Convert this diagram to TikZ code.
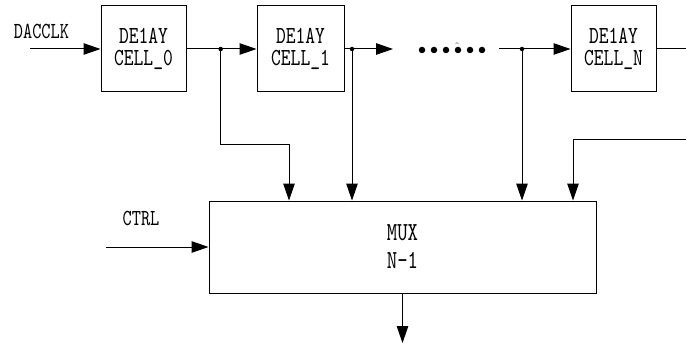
\documentclass[tikz,border=0pt]{standalone}
\usepackage{fontspec}
\usetikzlibrary{arrows.meta}
\newfontfamily\lab{lmmono10-regular.otf}[FakeStretch=0.76]
\begin{document}
\begin{tikzpicture}[x=1pt,y=-1pt,
  cellbox/.style={draw,line width=1pt,minimum width=85pt,minimum height=86pt,inner sep=0pt,align=center,
    font=\lab\fontsize{24.5}{22.5}\selectfont},
  muxbox/.style={draw,line width=1pt,minimum width=387pt,minimum height=92pt,inner sep=0pt,align=center,
    font=\lab\fontsize{26}{28}\selectfont},
  lbl/.style={inner sep=0pt,font=\lab\fontsize{23}{24}\selectfont},
  wire/.style={line width=1pt},
  arr/.style={line width=1pt,-{Triangle[length=17pt,width=11.5pt]}},
  jdot/.style={circle,fill,inner sep=0pt,minimum size=4.5pt},
  bdot/.style={circle,fill,inner sep=0pt,minimum size=6.5pt}]
\useasboundingbox (0,0) rectangle (686,345);
% delay cells
\node[cellbox] (c0) at (143.5,49) {DE1AY\\CELL\_0};
\node[cellbox,minimum width=87pt] (c1) at (300.5,49) {DE1AY\\CELL\_1};
\node[cellbox] (cn) at (613.5,49) {DE1AY\\CELL\_N};
\node[muxbox] (mux) at (402.5,247) {MUX\\N-1};
% labels
\node[lbl] (dacclk) at (41.5,31) {DACCLK};
\node[lbl] (ctrl) at (141,218) {CTRL};
% coordinates
\coordinate (inS) at (30,49);
\coordinate (ctrlS) at (106,247);
\coordinate (t1) at (393,49);
\coordinate (sN) at (499,49);
\coordinate (outE) at (686,49);
\coordinate (fb) at (686,139);
\coordinate (fbc) at (573,139);
\coordinate (b0) at (289,144);
\coordinate (outT) at (402.5,343);
\node[jdot] (j0) at (220.7,49) {};
\node[jdot] (j1) at (352,49) {};
\node[jdot] (j2) at (522,49) {};
% dotted ellipsis
\foreach \i/\xx in {1/422,2/434,3/446,4/458,5/470,6/482}{
  \node[bdot] (e\i) at (\xx,50) {};
}
\draw[line width=0.4pt,gray] (455.5,44) -- (457,42.5) -- (458.5,44);
% main chain
\draw[arr] (inS) -- (c0.west);
\draw[arr] (c0.east) -- (c1.west);
\draw[arr] (c1.east) -- (t1);
\draw[arr] (sN) -- (cn.west);
\draw[wire] (cn.east) -- (outE);
% taps to mux
\draw[arr] (j0.center) |- (b0) -- (b0 |- mux.north);
\draw[arr] (j1.center) -- (j1 |- mux.north);
\draw[arr] (j2.center) -- (j2 |- mux.north);
\draw[arr] (fb) -- (fbc) -- (fbc |- mux.north);
% ctrl and output
\draw[arr] (ctrlS) -- (mux.west);
\draw[arr] (mux.south) -- (outT);
\end{tikzpicture}
\end{document}
